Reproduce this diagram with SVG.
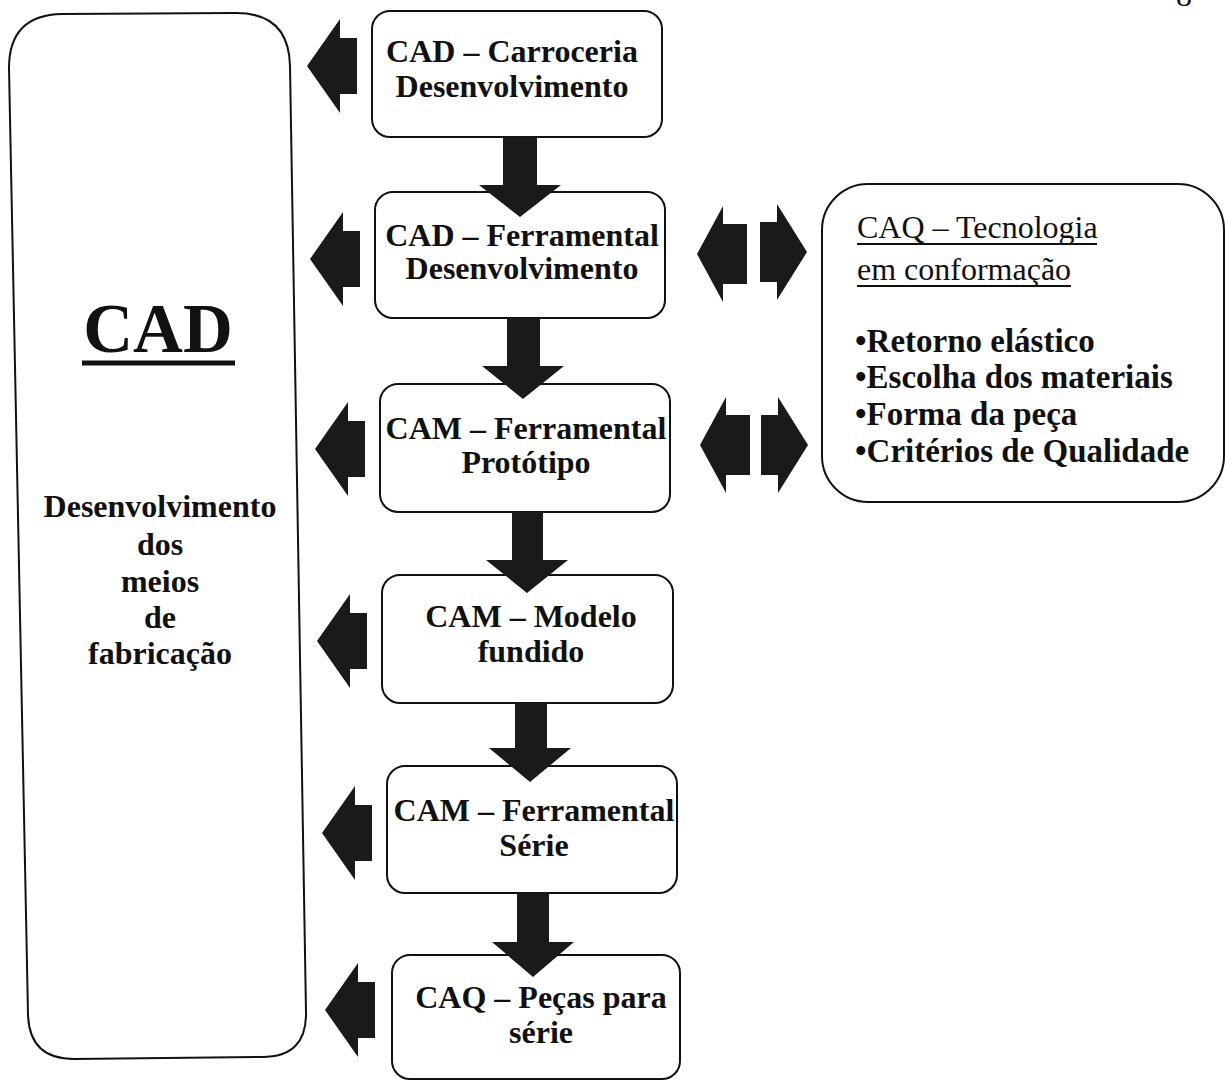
<svg xmlns="http://www.w3.org/2000/svg" width="1225" height="1081" viewBox="0 0 1225 1081">
  <defs>
    <style>
      .box { fill: #fff; stroke: #111; stroke-width: 2; }
      .arrow { fill: #1a1a1a; stroke: none; }
      .t { font-family: "Liberation Serif", "Times New Roman", serif; font-weight: bold; font-size: 32px; fill: #111; text-anchor: middle; }
      .hdr { font-family: "Liberation Serif", "Times New Roman", serif; font-weight: normal; font-size: 32px; fill: #111; }
      .bul { font-family: "Liberation Serif", "Times New Roman", serif; font-weight: bold; font-size: 33px; fill: #111; }
      .ul { stroke: #111; }
    </style>
    <!-- fat arrow shapes, tip at the origin -->
    <polygon id="arrow-left" points="0,0 33,-47 33,-28 50,-28 50,28 33,28 33,47"/>
    <polygon id="arrow-left-short" points="0,0 26,-48 26,-30 50,-30 50,30 26,30 26,48"/>
    <polygon id="arrow-right-short" points="0,0 -30,-48 -30,-30 -47,-30 -47,30 -30,30 -30,48"/>
  </defs>

  <rect width="1225" height="1081" fill="#fff"/>

  <!-- page number, cut at the top edge -->
  <text x="1184" y="6" class="hdr" text-anchor="middle">8</text>

  <!-- left column: CAD -->
  <g id="cad">
    <path class="box" d="M 9,68 Q 9,15 62,14 L 236,13 Q 289,13 290,66 L 306,1012 Q 307,1057 262,1057 L 74,1059 Q 29,1059 28,1014 Z"/>
    <text x="158" y="352" class="t" style="font-size:69px">CAD</text>
    <line class="ul" x1="82" y1="363" x2="235" y2="363" stroke-width="5"/>
    <text x="160" y="517" class="t">Desenvolvimento</text>
    <text x="160" y="555" class="t">dos</text>
    <text x="160" y="592" class="t">meios</text>
    <text x="160" y="628" class="t">de</text>
    <text x="160" y="664" class="t">fabricação</text>
  </g>

  <!-- process chain -->
  <g id="cad-carroceria">
    <rect class="box" x="372" y="11" width="290" height="126" rx="18"/>
    <text x="512" y="62" class="t">CAD – Carroceria</text>
    <text x="512" y="97" class="t">Desenvolvimento</text>
  </g>
  <g id="cad-ferramental">
    <rect class="box" x="375" y="192" width="290" height="126" rx="18"/>
    <text x="522" y="246" class="t">CAD – Ferramental</text>
    <text x="522" y="279" class="t">Desenvolvimento</text>
  </g>
  <g id="cam-ferramental-prototipo">
    <rect class="box" x="380" y="384" width="290" height="128" rx="18"/>
    <text x="526" y="439" class="t">CAM – Ferramental</text>
    <text x="526" y="473" class="t">Protótipo</text>
  </g>
  <g id="cam-modelo">
    <rect class="box" x="382" y="575" width="291" height="128" rx="18"/>
    <text x="531" y="627" class="t">CAM – Modelo</text>
    <text x="531" y="662" class="t">fundido</text>
  </g>
  <g id="cam-ferramental-serie">
    <rect class="box" x="387" y="766" width="290" height="127" rx="18"/>
    <text x="534" y="821" class="t">CAM – Ferramental</text>
    <text x="534" y="856" class="t">Série</text>
  </g>
  <g id="caq-pecas">
    <rect class="box" x="392" y="955" width="288" height="124" rx="18"/>
    <text x="541" y="1008" class="t">CAQ – Peças para</text>
    <text x="541" y="1043" class="t">série</text>
  </g>

  <!-- quality box -->
  <g id="caq-tecnologia">
    <rect class="box" x="822" y="184" width="402" height="318" rx="46"/>
    <text x="857" y="238" class="hdr">CAQ – Tecnologia</text>
    <line class="ul" x1="857" y1="244" x2="1097" y2="244" stroke-width="2"/>
    <text x="857" y="280" class="hdr">em conformação</text>
    <line class="ul" x1="857" y1="286" x2="1071" y2="286" stroke-width="2"/>
    <text x="855" y="352" class="bul">•Retorno elástico</text>
    <text x="855" y="388" class="bul">•Escolha dos materiais</text>
    <text x="855" y="425" class="bul">•Forma da peça</text>
    <text x="855" y="462" class="bul">•Critérios de Qualidade</text>
  </g>

  <!-- connectors -->
  <g id="connectors" class="arrow">
    <!-- downward flow between the process steps -->
    <polygon points="503,137 537,137 537,185 561,185 520,217 479,185 503,185"/>
    <polygon points="507,318 540,318 540,366 564,366 523,399 482,366 507,366"/>
    <polygon points="512,512 543,512 543,560 568,560 527,593 486,560 512,560"/>
    <polygon points="515,703 547,703 547,748 571,748 530,782 489,748 515,748"/>
    <polygon points="517,893 549,893 549,942 574,942 533,977 492,942 517,942"/>

    <!-- feeds into the CAD column -->
    <use href="#arrow-left" x="307" y="66"/>
    <use href="#arrow-left" x="310" y="259"/>
    <use href="#arrow-left" x="315" y="449"/>
    <use href="#arrow-left" x="317" y="641"/>
    <use href="#arrow-left" x="322" y="833"/>
    <use href="#arrow-left" x="325" y="1010"/>

    <!-- exchange with the forming technology box -->
    <use href="#arrow-left-short" x="697" y="254"/>
    <use href="#arrow-right-short" x="807" y="252"/>
    <use href="#arrow-left-short" x="700" y="445"/>
    <use href="#arrow-right-short" x="808" y="445"/>
  </g>
</svg>
